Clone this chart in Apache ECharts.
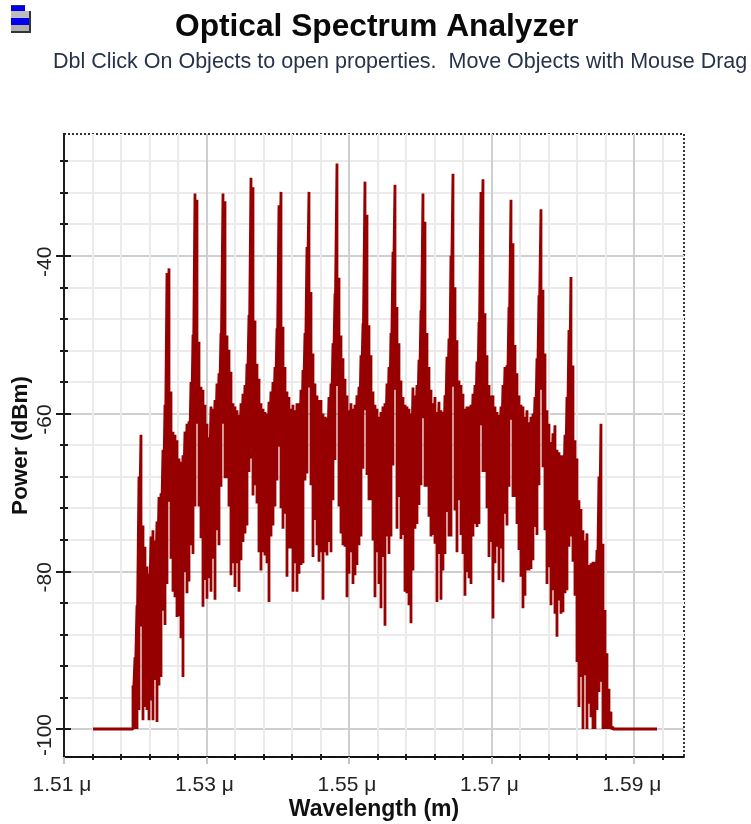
<!DOCTYPE html>
<html>
<head>
<meta charset="utf-8">
<style>html,body{margin:0;padding:0;background:#fff}#c{width:751px;height:824px}</style>
<script src="https://cdn.jsdelivr.net/npm/echarts@6/dist/echarts.min.js"></script>
</head>
<body>
<div id="c"></div>
<script>
const titleText = 'Optical Spectrum Analyzer';
const subtitleText = 'Dbl Click On Objects to open properties.  Move Objects with Mouse Drag';
const xName = 'Wavelength (m)';
const yName = 'Power (dBm)';
const xMajor = [1.51, 1.53, 1.55, 1.57, 1.59];
const xMinor = [1.514,1.518,1.522,1.526,1.534,1.538,1.542,1.546,1.554,1.558,1.562,1.566,1.574,1.578,1.582,1.586,1.594];
const yMajor = [-100, -80, -60, -40];
const yMinor = [-96,-92,-88,-84,-76,-72,-68,-64,-56,-52,-48,-44,-36,-32,-28];

// Spectrum read column by column: the top and the bottom of each trace swing.
const firstWavelength = 1.519684;
const columnStep = 0.0002807;
const floorStart = 1.51407;
const floorEnd = 1.59323;
const floorPower = -100;
const upper = [
-94.5,-90.9,-84.3,-68,-62.7,-74.2,-76.9,-79.4,-80.3,-75.6,-74.8,-76.1,-73.7,-70.6,-70.1,-64.6,-58.9,-42.2,-41.6,-57.2,
-62.3,-62.7,-63.4,-65.7,-66.1,-65.3,-62.3,-61.3,-61,-56,-50,-32.1,-32.9,-50.9,-56.6,-57,-58.9,-61.3,-63,
-59.1,-59.4,-58.3,-56.2,-54.9,-49.8,-32.1,-33.1,-50.1,-51.9,-54.7,-58.7,-59.1,-59.6,-60.2,-58.7,-57.5,-56.4,-53.7,-47.5,
-30.1,-31.3,-48.2,-53.7,-55.6,-58.7,-59.4,-59.8,-60,-58.5,-57.2,-56,-54.1,-49.2,-33.6,-31.9,-49,-54.1,-57.2,-57.9,
-59.4,-58.9,-59.6,-58.7,-58.7,-57,-54.5,-49.8,-38.9,-31.9,-44.6,-52.4,-56.2,-57.7,-58.3,-58.3,-60,-60.4,-60.5,-57.9,
-56.2,-51.1,-44.8,-28.3,-42.8,-50.1,-53,-55.6,-57.7,-59.6,-58.7,-59.4,-58.9,-57.7,-56.6,-52.6,-48.6,-30.6,-34.8,-48.8,
-52.6,-57.2,-58.9,-59.4,-60.4,-59.8,-59.1,-58.7,-56.2,-54.1,-49.8,-39.5,-31,-46.5,-51.1,-55.8,-57.9,-58.9,-59.1,-59.4,
-60,-56.7,-57.7,-56.4,-53.2,-46.9,-32.1,-35.7,-49.8,-54.1,-57,-58.7,-57.9,-59.8,-58.5,-59.6,-59.8,-57.7,-52.8,-50.5,
-40,-29.6,-44,-50.7,-55.8,-56.4,-57.5,-59.4,-59.1,-59.1,-58.9,-57.5,-56.4,-53.4,-48.4,-31.9,-30.3,-47.3,-52.6,-56.4,
-57.7,-57.7,-59.1,-59.8,-60.2,-59.1,-56.4,-54.1,-53.9,-46.5,-32.9,-38.4,-51.3,-54.9,-57.7,-58.9,-59.1,-60.4,-59.6,-61.1,
-60.4,-60,-57.9,-53,-45,-34.1,-44.3,-52.4,-59.6,-61.3,-63.6,-62.5,-61.5,-64.6,-64.9,-65.3,-65.3,-62.7,-57.9,-49.4,
-42.7,-53.9,-63.4,-65.7,-71,-72.1,-74.8,-76.1,-75.2,-79.2,-79,-78.8,-78.8,-77.3,-68,-61.3,-76.5,-84.9,-90.4,-94.9,-97.8,-99.7
];
const lower = [
-100,-100,-100,-97.6,-87,-98.9,-97.2,-97.6,-98.9,-96.4,-98.9,-93.8,-99.1,-94.5,-93.4,-85,-86.8,-81.6,-71.2,-78.4,
-82.6,-83.3,-85.8,-85.7,-88.5,-93.4,-80.1,-82.8,-81.3,-76.7,-77.8,-71.8,-61.3,-71.8,-75.8,-84.5,-81.1,-83.5,-80.9,
-82.6,-78.4,-83.6,-74.8,-76.7,-69.3,-61.3,-68.2,-68.2,-71.8,-80.5,-79,-82,-79,-82.6,-78.6,-76.3,-75.2,-74.2,-67.4,
-65.7,-70.4,-69.1,-71.4,-77.6,-79.9,-77.6,-78,-79,-83.9,-75.6,-74.2,-71.8,-68.5,-64.2,-72,-74.6,-72.7,-80.7,-77.1,
-77.1,-82.6,-79,-82.6,-80.3,-79.2,-79,-68.5,-67.6,-56.7,-69.1,-78.2,-73.5,-76.7,-78.8,-77.6,-83.6,-77.6,-78,-76.3,
-77.6,-71,-65.9,-56.5,-71.8,-75.2,-76.7,-76.9,-83.3,-80.3,-77.6,-81.6,-80.5,-79.2,-76.7,-75.6,-67,-59.6,-67.8,-71,
-71,-76.1,-83.3,-77.6,-81.6,-84.7,-78.2,-86.9,-75.6,-77.8,-75.6,-66.6,-57,-74.6,-70.6,-75.9,-75.4,-82.6,-82.8,-84.3,
-86.6,-79.9,-74.6,-74,-71.6,-69.1,-60.6,-69.3,-69.3,-73.1,-75.6,-75.4,-76.5,-83.9,-77.8,-83.6,-79.9,-77.8,-72.5,-75.6,
-75.6,-56.6,-72.3,-77.6,-71,-75.4,-77.8,-83.1,-80.1,-80.9,-81.6,-75.6,-74,-74.4,-74,-61.5,-67.4,-67.4,-72,-78.2,
-76.3,-86,-79,-76.9,-81.1,-77.1,-81.4,-72.7,-74.2,-69.3,-60.8,-70.6,-70.6,-74,-77.3,-80.7,-84.7,-83.1,-79.9,-79.9,
-79.7,-78.6,-74.4,-75.4,-69.1,-57,-66.8,-74.8,-81.6,-79.5,-84.3,-82.4,-85.4,-88.3,-83.7,-85.4,-85.2,-82.8,-82.4,-76.9,
-75.6,-78.8,-83.1,-91.5,-97.2,-93.4,-100,-93.2,-100,-96.8,-98.5,-100,-100,-97.6,-95.3,-94,-100,-100,-100,-100,-100,-100
];

// The pen moves between neighbouring columns at a level both columns cover,
// so the joins never leave the columns that were read.
const trace = [[floorStart, floorPower], [firstWavelength, floorPower]];
upper.forEach((hi, i) => {
  const w = firstWavelength + i * columnStep;
  trace.push([w, hi], [w, lower[i]]);
  if (i + 1 < upper.length) {
    const shared = (Math.max(lower[i], lower[i + 1]) + Math.min(hi, upper[i + 1])) / 2;
    trace.push([w, shared], [w + columnStep, shared]);
  }
});
trace.push([floorEnd, floorPower]);

const xRange = { min: 1.51, max: 1.59702 };
const yRange = { min: -103.55, max: -24.56 };
const ink = '#1c1c1c';
const labelFont = { fontFamily: 'Liberation Sans', fontSize: 21, color: '#222' };
const off = { show: false };

function axis(base, range, opt) {
  return Object.assign({ type: 'value', position: base, scale: true, axisLine: off, axisLabel: off, axisTick: off, splitLine: off }, range, opt);
}
const tick = (vals, len, inside, color) => ({ show: true, customValues: vals, length: len, inside, lineStyle: { color: color || ink, width: 2 } });

const xAxes = [
  axis('bottom', xRange, { axisTick: tick(xMinor, 3, false), splitLine: { show: true, lineStyle: { color: '#ebebeb', width: 2 } } }),
  axis('bottom', xRange, { axisTick: tick(xMinor, 3, true) }),
  axis('bottom', xRange, {
    name: xName, nameLocation: 'middle', nameGap: 41, nameMoveOverlap: false,
    nameTextStyle: { fontFamily: 'Liberation Sans', fontWeight: 'bold', fontSize: 23, color: '#111' },
    axisLine: { show: true, onZero: false, lineStyle: { color: '#111', width: 2, type: [2, 1] } },
    axisTick: tick(xMajor, 7, false, '#c4c4c4'),
    axisLabel: Object.assign({ show: true, customValues: xMajor, margin: 15, padding: [3, 4, 0, 0], showMaxLabel: true, showMinLabel: true,
      formatter: v => v.toFixed(2) + ' μ' }, labelFont),
    splitLine: { show: true, lineStyle: { color: '#cfcfcf', width: 2 } }
  })
];
const yAxes = [
  axis('left', yRange, { axisTick: tick(yMinor, 4, false), splitLine: { show: true, lineStyle: { color: '#ebebeb', width: 2 } } }),
  axis('left', yRange, { axisTick: tick(yMinor, 4, true) }),
  axis('left', yRange, { axisTick: tick(yMajor, 7, true) }),
  axis('left', yRange, {
    name: yName, nameLocation: 'middle', nameGap: 32, nameRotate: 90, nameMoveOverlap: false,
    nameTextStyle: { fontFamily: 'Liberation Sans', fontWeight: 'bold', fontSize: 22.5, color: '#111' },
    axisLine: { show: true, onZero: false, lineStyle: { color: ink, width: 2 } },
    axisTick: tick(yMajor, 8, false),
    axisLabel: Object.assign({ show: true, customValues: yMajor, rotate: 90, margin: 19, align: 'center', verticalAlign: 'middle',
      padding: [0, 12, 0, 0], showMaxLabel: true, showMinLabel: true, formatter: v => String(v) }, labelFont),
    splitLine: { show: true, lineStyle: { color: '#cfcfcf', width: 2 } }
  })
];

const chart = echarts.init(document.getElementById('c'), null, { renderer: 'canvas' });
chart.setOption({
  animation: false,
  backgroundColor: '#fff',
  title: [
    { text: titleText, left: 170, top: 6, textStyle: { fontFamily: 'Liberation Sans', fontWeight: 'bold', fontSize: 31.7, color: '#0a0a0a' } },
    { text: subtitleText, left: 48, top: 46, textStyle: { fontFamily: 'Liberation Sans', fontWeight: 'normal', fontSize: 21.5, color: '#26334a' } }
  ],
  grid: { left: 64, top: 134, right: 67, bottom: 67, show: true, borderColor: '#333', borderWidth: 2, borderType: [2, 2], outerBoundsMode: 'none' },
  xAxis: xAxes,
  yAxis: yAxes,
  series: [{
    type: 'line', data: trace, xAxisIndex: 2, yAxisIndex: 3, showSymbol: false, symbol: 'none', sampling: false,
    clip: true, z: 5, lineStyle: { color: '#960000', width: 2.8, join: 'bevel' }
  }],
  graphic: [
    { type: 'rect', shape: { x: 11, y: 5, width: 14, height: 6 }, style: { fill: '#0000f0' } },
    { type: 'rect', shape: { x: 11, y: 11, width: 20, height: 7 }, style: { fill: '#bdbdbd' } },
    { type: 'rect', shape: { x: 11, y: 18, width: 20, height: 7 }, style: { fill: '#0000f0' } },
    { type: 'rect', shape: { x: 11, y: 25, width: 20, height: 7 }, style: { fill: '#b0b0b0' } },
    { type: 'rect', shape: { x: 29, y: 11, width: 2, height: 22 }, style: { fill: '#333' } },
    { type: 'rect', shape: { x: 11, y: 31, width: 20, height: 2 }, style: { fill: '#333' } },
    { type: 'rect', shape: { x: 11, y: 5, width: 14, height: 1 }, style: { fill: '#333' } }
  ]
});
</script>
</body>
</html>
